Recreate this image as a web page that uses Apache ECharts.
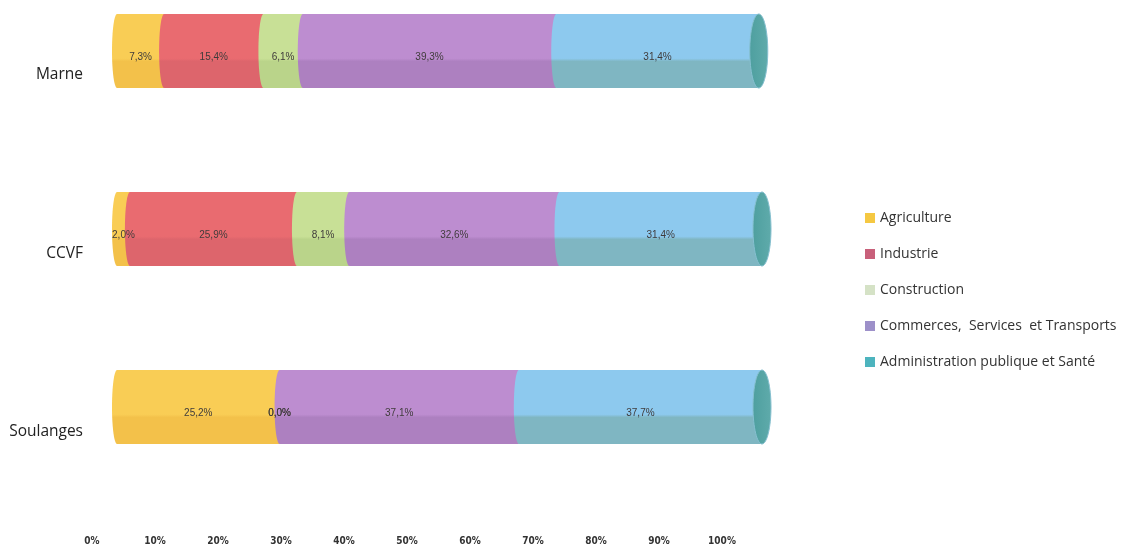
<!DOCTYPE html>
<html>
<head>
<meta charset="utf-8">
<script src="https://cdn.jsdelivr.net/npm/echarts@6/dist/echarts.min.js"></script>
<style>
  html, body { margin: 0; padding: 0; background: #ffffff; }
  #chart { width: 1139px; height: 546px; }
</style>
</head>
<body>
<div id="chart"></div>
<script>
// Territories (top to bottom)
const categories = ['Marne', 'CCVF', 'Soulanges'];

// Share of jobs by sector, in %
const agriculture    = [7.3, 2.0, 25.2];
const industrie      = [15.4, 25.9, 0.0];
const construction   = [6.1, 8.1, 0.0];
const commerces      = [39.3, 32.6, 37.1];
const administration = [31.4, 31.4, 37.7];

const tickLabels = ['0%', '10%', '20%', '30%', '40%', '50%', '60%', '70%', '80%', '90%', '100%'];

const sectorNames = ['Agriculture', 'Industrie', 'Construction',
  'Commerces,  Services  et Transports', 'Administration publique et Santé'];
const sectorValues = [agriculture, industrie, construction, commerces, administration];

// Cylinder shading: [upper face, lower face]
const shades = [
  ['#f9cd55', '#f3c14a'],
  ['#e96b70', '#dd656c'],
  ['#c8e096', '#bad48a'],
  ['#bd8dd0', '#ad80c0'],
  ['#8dc9ee', '#7fb6c2']
];
const legendColors = ['#f5c842', '#c8607a', '#d5e2c6', '#9d90c9', '#4db4be'];

function shade(c) {
  return new echarts.graphic.LinearGradient(0, 0, 0, 1, [
    { offset: 0, color: c[0] },
    { offset: 0.6, color: c[0] },
    { offset: 0.64, color: c[1] },
    { offset: 1, color: c[1] }
  ]);
}

const fmt = v => v.toFixed(1).replace('.', ',') + '%';

const totals = categories.map((c, i) => sectorValues.reduce((s, arr) => s + arr[i], 0));

const barSeries = sectorNames.map((name, k) => ({
  name: name,
  type: 'bar',
  stack: 'total',
  xAxisIndex: 1,
  yAxisIndex: 1,
  barWidth: 74,
  clip: false,
  z: 3,
  data: sectorValues[k],
  itemStyle: { color: shade(shades[k]) },
  label: {
    show: true,
    position: 'inside',
    offset: [0, 6],
    formatter: p => fmt(p.value),
    fontFamily: 'Liberation Sans',
    fontSize: 10,
    color: '#3f3b3b'
  }
}));

// Curved start of every non-empty segment: [start, category, sector]
const edgeData = [];
categories.forEach((c, i) => {
  let start = 0;
  sectorValues.forEach((arr, k) => {
    if (arr[i] > 0) edgeData.push([start, i, k]);
    start += arr[i];
  });
});

// Drawn above the segment bodies but below their value labels
const edges = {
  type: 'custom',
  xAxisIndex: 1,
  yAxisIndex: 1,
  clip: false,
  z: 3,
  silent: true,
  data: edgeData,
  renderItem: (params, api) => {
    const p = api.coord([api.value(0), api.value(1)]);
    return {
      type: 'ellipse',
      z2: 2,
      shape: { cx: p[0], cy: p[1], rx: 5, ry: 37 },
      style: { fill: shade(shades[api.value(2)]) }
    };
  }
};

// Visible end face at the right of each cylinder
const rightCaps = {
  type: 'custom',
  xAxisIndex: 1,
  yAxisIndex: 1,
  clip: false,
  z: 4,
  silent: true,
  data: categories.map((c, i) => [totals[i], i]),
  renderItem: (params, api) => {
    const p = api.coord([api.value(0), api.value(1)]);
    return {
      type: 'ellipse',
      shape: { cx: p[0], cy: p[1], rx: 9, ry: 37 },
      style: {
        fill: new echarts.graphic.LinearGradient(0, 0, 1, 0, [
          { offset: 0, color: '#4e9f9f' },
          { offset: 1, color: '#5fabab' }
        ]),
        stroke: '#86c0d0',
        lineWidth: 1
      }
    };
  }
};

const chart = echarts.init(document.getElementById('chart'), null, { renderer: 'canvas' });

chart.setOption({
  backgroundColor: '#ffffff',
  animation: false,
  legend: {
    orient: 'vertical',
    left: 860,
    top: 205,
    itemWidth: 10,
    itemHeight: 10,
    itemGap: 20,
    icon: 'rect',
    data: sectorNames.map((n, k) => ({ name: n, itemStyle: { color: legendColors[k] } })),
    textStyle: { fontFamily: 'Open Sans', fontSize: 14, color: '#333333', lineHeight: 16 }
  },
  grid: [
    // floor axis and category names
    { left: 92, width: 630, top: 75, height: 357 },
    // cylinders, drawn with a perspective offset
    { left: 117, width: 645, top: 51, height: 356 }
  ],
  xAxis: [
    {
      gridIndex: 0,
      type: 'value',
      min: 0, max: 100, interval: 10,
      axisLine: { show: false },
      axisTick: { show: false },
      splitLine: { show: false },
      axisLabel: {
        margin: 104,
        formatter: v => tickLabels[Math.round(v / 10)],
        fontFamily: 'DejaVu Sans Condensed',
        fontWeight: 'bold',
        fontSize: 10,
        color: '#333333'
      }
    },
    {
      gridIndex: 1,
      type: 'value',
      min: 0, max: 100,
      show: false
    }
  ],
  yAxis: [
    {
      gridIndex: 0,
      type: 'category',
      data: categories,
      inverse: true,
      boundaryGap: false,
      axisLine: { show: false },
      axisTick: { show: false },
      axisLabel: {
        margin: 9,
        fontFamily: 'Open Sans',
        fontSize: 15.5,
        color: '#222222'
      }
    },
    {
      gridIndex: 1,
      type: 'category',
      data: categories,
      inverse: true,
      boundaryGap: false,
      show: false
    }
  ],
  series: barSeries.concat([edges, rightCaps])
});
</script>
</body>
</html>
